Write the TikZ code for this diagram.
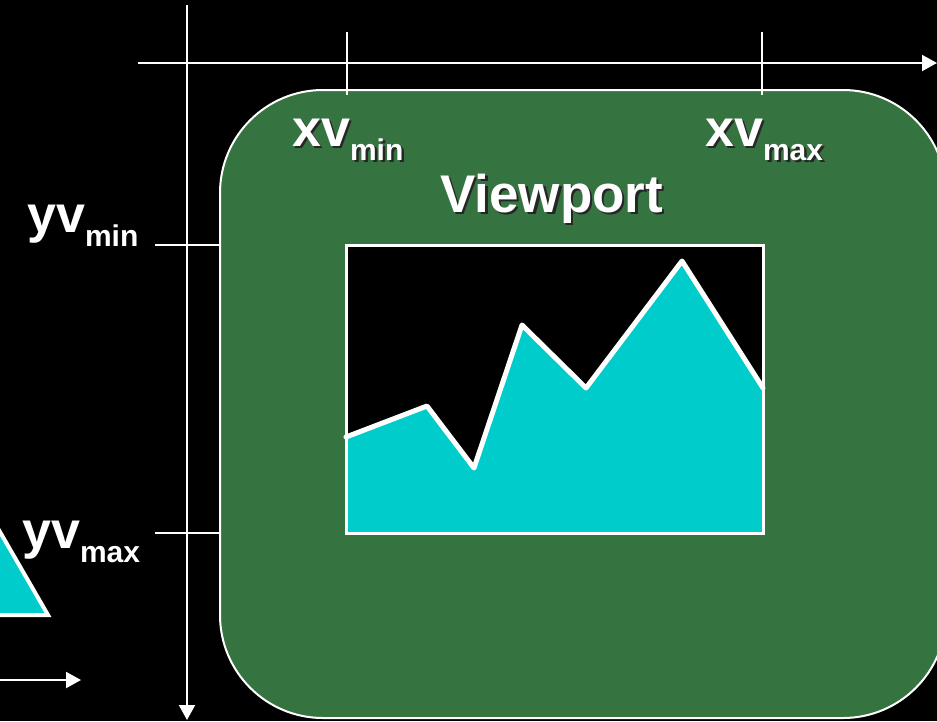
\documentclass[tikz,border=0pt]{standalone}
\usepackage{fontspec}
\setmainfont{Liberation Sans}
\usetikzlibrary{arrows.meta}
\definecolor{vpgreen}{RGB}{53,116,64}
\definecolor{vpcyan}{RGB}{0,204,204}
\newcommand{\bigsub}[2]{{\fontsize{52}{52}\selectfont\bfseries #1}\raisebox{-14pt}{\fontsize{30}{30}\selectfont\bfseries #2}}
\newcommand{\shadowed}[1]{\rlap{\hspace{2.5pt}\raisebox{-2.5pt}{\color{black!85}#1}}#1}
\tikzset{
  axis/.style={white, line width=2pt},
  axisarrow/.style={axis, -{Triangle[length=15pt,width=16pt]}},
  tick/.style={white, line width=2pt},
  lbl/.style={text=white, inner sep=0pt, anchor=base west},
  graphline/.style={white, line width=5pt, line join=round, line cap=round},
}
\begin{document}
\begin{tikzpicture}[x=1pt,y=-1pt]
\useasboundingbox (0,0) rectangle (937,721);
\fill[black] (0,0) rectangle (937,721);
\clip (0,0) rectangle (937,721);
% viewport frame
\node[draw=white, line width=2pt, fill=vpgreen, rounded corners=103pt, inner sep=0pt, outer sep=0pt, minimum width=726pt, minimum height=628pt, anchor=north west] (vp) at (220,90) {};
% axes
\coordinate (hx0) at (138,63); \coordinate (hx1) at (937,63);
\coordinate (vy0) at (187,5); \coordinate (vy1) at (187,720);
\draw[axisarrow] (hx0) -- (hx1);
\draw[axisarrow] (vy0) -- (vy1);
% ticks
\coordinate (t1a) at (347,32); \coordinate (t1b) at (347,95);
\coordinate (t2a) at (762,32); \coordinate (t2b) at (762,95);
\coordinate (t3a) at (155,245); \coordinate (t3b) at (219,245);
\coordinate (t4a) at (155,533); \coordinate (t4b) at (219,533);
\draw[tick] (t1a) -- (t1b);
\draw[tick] (t2a) -- (t2b);
\draw[tick] (t3a) -- (t3b);
\draw[tick] (t4a) -- (t4b);
% inner window
\coordinate (wnw) at (346,245); \coordinate (wse) at (763,533);
\node[fill=black, inner sep=0pt, outer sep=0pt, minimum width=417pt, minimum height=288pt, anchor=north west] (win) at (wnw) {};
\fill[vpcyan] (346,437) -- (427,406) -- (474,468) -- (522,325) -- (586,388) -- (682,261) -- (763,388) -- (763,533) -- (346,533) -- cycle;
\draw[graphline] (346,437) -- (427,406) -- (474,468) -- (522,325) -- (586,388) -- (682,261) -- (763,388);
\draw[white, line width=3pt] (wnw) rectangle (wse);
% partial triangle at the left
\filldraw[fill=vpcyan, draw=white, line width=4pt, line join=miter] (-30,480) -- (48,615) -- (-30,615) -- cycle;
% small arrow bottom left
\coordinate (sa0) at (-5,680); \coordinate (sa1) at (81,680);
\draw[axisarrow] (sa0) -- (sa1);
% labels
\node[lbl] (xvmin) at (292,146) {\shadowed{\bigsub{xv}{min}}};
\node[lbl] (xvmax) at (705,146) {\shadowed{\bigsub{xv}{max}}};
\node[lbl] (vplabel) at (440,212) {\shadowed{\fontsize{53}{53}\selectfont\bfseries Viewport}};
\node[lbl] (yvmin) at (27,232) {\bigsub{yv}{min}};
\node[lbl] (yvmax) at (22,548) {\bigsub{yv}{max}};
\end{tikzpicture}
\end{document}
